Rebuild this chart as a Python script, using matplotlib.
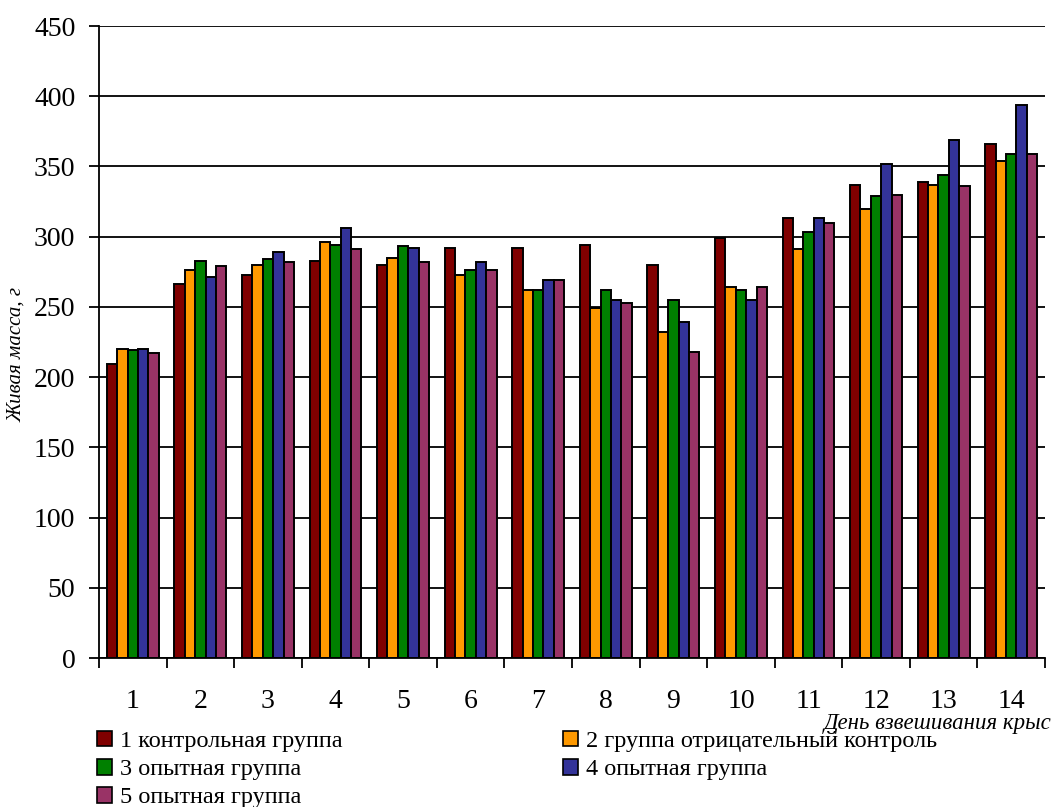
import numpy as np
import matplotlib
matplotlib.use("Agg")
import matplotlib.pyplot as plt
from matplotlib.patches import Patch

plt.rcParams['font.family'] = ['Liberation Serif', 'DejaVu Serif']

# live body mass of rats by weighing day, g
days = [str(d) for d in range(1, 15)]
group1 = [209, 266, 273, 283, 280, 292, 292, 294, 280, 299, 313, 337, 339, 366]
group2 = [220, 276, 280, 296, 285, 273, 262, 249, 232, 264, 291, 320, 337, 354]
group3 = [219, 283, 284, 294, 293, 276, 262, 262, 255, 262, 303, 329, 344, 359]
group4 = [220, 271, 289, 306, 292, 282, 269, 255, 239, 255, 313, 352, 369, 394]
group5 = [217, 279, 282, 291, 282, 276, 269, 253, 218, 264, 310, 330, 336, 359]

series = [group1, group2, group3, group4, group5]
labels = ['1 контрольная группа',
          '2 группа отрицательный контроль',
          '3 опытная группа',
          '4 опытная группа',
          '5 опытная группа']
colors = ['#800000', '#FF9900', '#008000', '#333399', '#993366']

fig = plt.figure(figsize=(10.55, 8.07), dpi=100)
ax = fig.add_axes([99 / 1055, 1 - 658 / 807, 946 / 1055, 632 / 807])

x = np.arange(len(days))
width = 1 / 6.5
for i, (vals, col) in enumerate(zip(series, colors)):
    ax.bar(x + (i - 2) * width, vals, width, color=col,
           edgecolor='black', linewidth=1.4, zorder=3)

ax.set_xlim(-0.5, len(days) - 0.5)
ax.set_ylim(0, 450)
ax.set_yticks(np.arange(0, 451, 50))
ax.grid(axis='y', color='black', linewidth=1.3, zorder=0)

# ticks between categories, labels at the centres
ax.set_xticks(np.arange(-0.5, len(days)), labels=[])
ax.set_xticks(x, labels=days, minor=True)
ax.tick_params(axis='x', which='major', direction='out', length=7, width=1.3)
ax.tick_params(axis='x', which='minor', length=0, pad=22, labelsize=20)
ax.tick_params(axis='y', direction='out', length=7, width=1.3, pad=10, labelsize=20)

for side in ['top', 'right']:
    ax.spines[side].set_visible(False)
for side in ['left', 'bottom']:
    ax.spines[side].set_linewidth(1.3)
    ax.spines[side].set_zorder(4)

fig.text(17 / 1055, 1 - 355 / 807, 'Живая масса, г', rotation=90,
         style='italic', fontsize=15, ha='center', va='center')
fig.text(1052 / 1055, 1 - 723 / 807, 'День взвешивания крыс',
         style='italic', fontsize=16.5, ha='right', va='center')

handles = [Patch(facecolor=c, edgecolor='black', linewidth=1.2) for c in colors]
leg_kw = dict(frameon=False, fontsize=17.5, handlelength=0.6, handleheight=0.6,
              handletextpad=0.35, labelspacing=0.28, borderpad=0,
              borderaxespad=0, loc='upper left')
fig.legend([handles[0], handles[2], handles[4]],
           [labels[0], labels[2], labels[4]],
           bbox_to_anchor=(97 / 1055, 1 - 731 / 807), **leg_kw)
fig.legend([handles[1], handles[3]], [labels[1], labels[3]],
           bbox_to_anchor=(563 / 1055, 1 - 731 / 807), **leg_kw)

fig.savefig('out.png', dpi=100)
